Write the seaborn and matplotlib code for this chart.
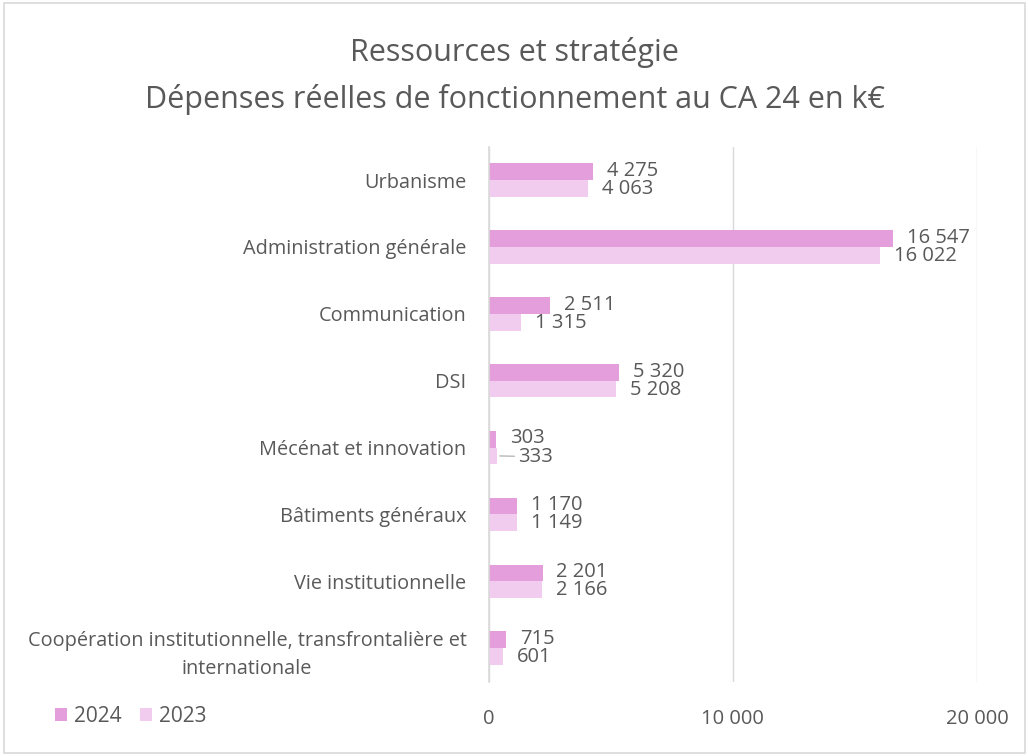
import matplotlib
matplotlib.use("Agg")
import matplotlib.pyplot as plt
import seaborn as sns
import pandas as pd
from matplotlib.patches import Patch

categories = ["Urbanisme", "Administration générale", "Communication", "DSI",
              "Mécénat et innovation", "Bâtiments généraux", "Vie institutionnelle",
              "Coopération institutionnelle, transfrontalière et\ninternationale"]
values_2024 = [4275, 16547, 2511, 5320, 303, 1170, 2201, 715]
values_2023 = [4063, 16022, 1315, 5208, 333, 1149, 2166, 601]
years = ["2024", "2023"]
colors = {"2024": "#E39EDB", "2023": "#F2CCEE"}

df = pd.DataFrame({
    "cat": categories * 2,
    "val": values_2024 + values_2023,
    "year": ["2024"] * len(categories) + ["2023"] * len(categories),
})

sns.set_theme(style="white")
plt.rcParams["font.family"] = ["Open Sans", "DejaVu Sans"]

fig = plt.figure(figsize=(10.29, 7.56), dpi=100)
ax = fig.add_axes([0.475, 0.0985, 0.4745, 0.7075])

sns.barplot(data=df, y="cat", x="val", hue="year", hue_order=years,
            palette=colors, orient="h", width=0.5, ax=ax, legend=False,
            saturation=1, linewidth=0)

ax.set_xlim(0, 20000)
ax.set_xticks([0, 10000, 20000])
ax.set_xticklabels(["0", "10 000", "20 000"], fontsize=14.5, color="#595959")
ax.tick_params(axis="x", length=0, pad=20)
ax.tick_params(axis="y", length=0, pad=16)
ax.set_yticks(range(len(categories)))
ax.set_yticklabels(categories, fontsize=14.3, color="#595959", linespacing=1.55)
for t in ax.get_yticklabels():
    t.set_horizontalalignment("right")
    t.set_multialignment("center")
ax.set_xlabel("")
ax.set_ylabel("")
ax.grid(axis="x", color="#D9D9D9", linewidth=1)
ax.set_axisbelow(True)
for s in ["top", "right", "bottom"]:
    ax.spines[s].set_visible(False)
ax.spines["left"].set_color("#D9D9D9")
ax.spines["left"].set_linewidth(1.2)

def fmt(v):
    return f"{v:,}".replace(",", " ")

for k, (container, vals) in enumerate(zip(ax.containers, [values_2024, values_2023])):
    dy = 0.5 if k == 0 else -0.5
    for bar, v in zip(container, vals):
        lab = fmt(v)
        y = bar.get_y() + bar.get_height() / 2
        x = bar.get_width()
        if v == 333:
            ax.annotate(lab, xy=(x, y), xytext=(15, dy), textcoords="offset points",
                        va="center", ha="left", fontsize=14.5, color="#595959",
                        arrowprops=dict(arrowstyle="-", color="#A6A6A6", lw=0.8,
                                        shrinkA=0, shrinkB=2))
        else:
            ax.annotate(lab, xy=(x, y), xytext=(10, dy), textcoords="offset points",
                        va="center", ha="left", fontsize=14.5, color="#595959")

fig.text(0.5, 0.931, "Ressources et stratégie", ha="center", va="center",
         fontsize=22, color="#595959")
fig.text(0.5, 0.869, "Dépenses réelles de fonctionnement au CA 24 en k€", ha="center",
         va="center", fontsize=22, color="#595959")

handles = [Patch(facecolor=colors[y], edgecolor="none", label=y) for y in years]
fig.legend(handles=handles, loc="center left", bbox_to_anchor=(0.035, 0.052),
           ncol=2, frameon=False, fontsize=15, handlelength=0.6, handleheight=0.6,
           handletextpad=0.3, columnspacing=0.9, labelcolor="#595959")

border = plt.Rectangle((0.004, 0.004), 0.992, 0.992, transform=fig.transFigure,
                       fill=False, edgecolor="#D9D9D9", linewidth=1.2)
fig.patches.append(border)

fig.savefig("out.png", dpi=100, facecolor="white")
